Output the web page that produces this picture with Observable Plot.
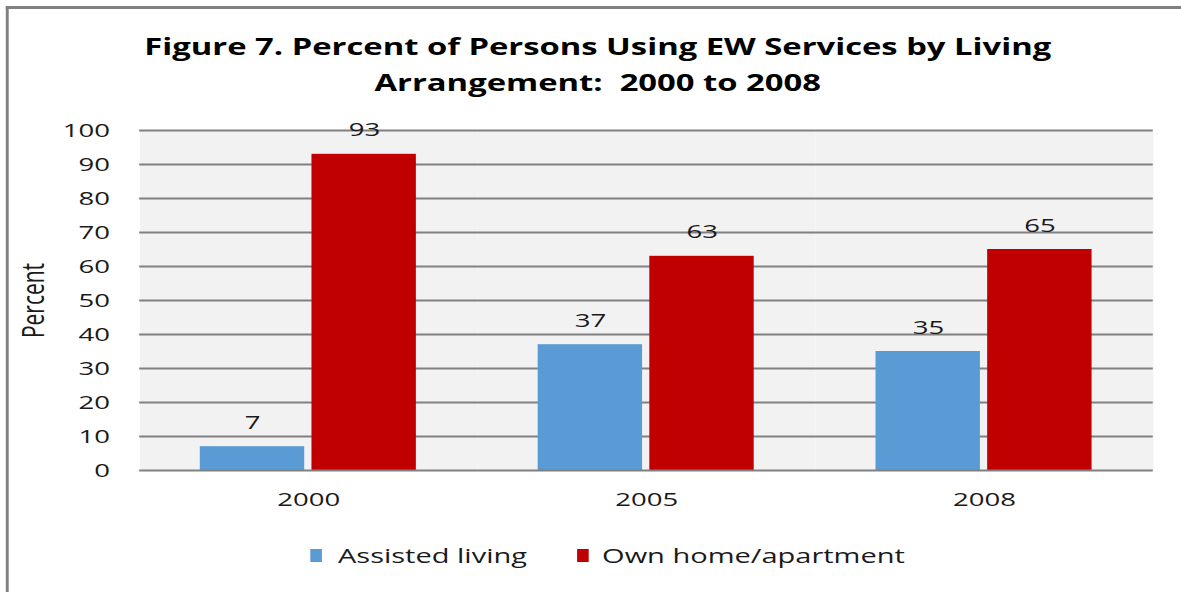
<!DOCTYPE html>
<html><head><meta charset="utf-8">
<script src="https://cdn.jsdelivr.net/npm/d3@7"></script>
<script src="https://cdn.jsdelivr.net/npm/@observablehq/plot@0.6"></script>
<style>
html,body{margin:0;padding:0;background:#fff;overflow:hidden;width:1181px;height:592px}
#stage{position:absolute;left:0;top:0;width:814.5px;height:592px;transform:scaleX(1.45);transform-origin:0 0;font-family:"Open Sans",sans-serif;color:#1a1a1a}
#border{position:absolute;left:4.1px;top:6px;width:820px;height:600px;border-left:2px solid #808080;border-top:3px solid #808080}
#title{position:absolute;left:5px;width:100%;top:29px;text-align:center;font-weight:bold;font-size:22.6px;line-height:36px;color:#000;white-space:pre}
#plot{position:absolute;left:0;top:100px}
#legend{position:absolute;top:541px;left:213.8px;height:28px;display:flex;align-items:center;font-size:20px;white-space:nowrap;color:#1a1a1a}
.sw{display:inline-block;width:8.3px;height:13px;margin-right:11px}
.item{display:flex;align-items:center}
.item + .item{margin-left:34.5px}
.item + .item .sw{margin-right:9px}
</style>
</head><body>
<div id="stage">
  <div id="border"></div>
  <div id="title"></div>
  <div id="plot"></div>
  <div id="legend"></div>
</div>
<script>
const titleLines = ["Figure 7. Percent of Persons Using EW Services by Living", "Arrangement:  2000 to 2008"];
const years = ["2000", "2005", "2008"];
const seriesNames = ["Assisted living", "Own home/apartment"];
const assistedLiving = [7, 37, 35];
const ownHome = [93, 63, 65];
const yTicks = [0, 10, 20, 30, 40, 50, 60, 70, 80, 90, 100];
const seriesColors = ["#5b9bd5", "#c00000"];
const yLabel = "Percent";

document.getElementById("title").textContent = titleLines.join("\n");

const data = years.flatMap((yr, i) => [
  {year: yr, series: seriesNames[0], value: assistedLiving[i]},
  {year: yr, series: seriesNames[1], value: ownHome[i]}
]);

const chart = Plot.plot({
  width: 814.5,
  height: 430,
  marginTop: 30,
  marginBottom: 60,
  marginLeft: 95.2,
  marginRight: 18.6,
  style: {fontFamily: "Open Sans, sans-serif", fontSize: "19px", color: "#1a1a1a", background: "transparent", overflow: "visible"},
  fx: {domain: years, padding: 0, label: null, axis: null},
  x: {domain: seriesNames, paddingInner: 0.0714, paddingOuter: 0.5476, axis: null},
  y: {domain: [0, 100], label: null},
  color: {domain: seriesNames, range: seriesColors},
  marks: [
    Plot.frame({fill: "#f2f2f2", stroke: null}),
    Plot.ruleY(yTicks.filter(t => t > 0), {stroke: "#808080", strokeWidth: 2}),
    Plot.barY(data, {fx: "year", x: "series", y: "value", fill: "series"}),
    Plot.ruleY([0], {stroke: "#808080", strokeWidth: 2}),
    Plot.text(data, {fx: "year", x: "series", y: "value", text: d => String(d.value), dy: -24, fontSize: 19, fill: "#1a1a1a"}),
    Plot.axisY({ticks: yTicks, tickSize: 0, tickPadding: 20.7, fontSize: 19, label: null}),
    Plot.axisY({ticks: [], tickSize: 0, fontSize: 21, label: yLabel, labelAnchor: "center", labelArrow: "none", labelOffset: 81}),
    Plot.axisFx({anchor: "bottom", tickSize: 0, tickPadding: 22, fontSize: 19, label: null})
  ]
});
document.getElementById("plot").appendChild(chart);

const legend = document.getElementById("legend");
seriesNames.forEach((name, i) => {
  const item = document.createElement("span");
  item.className = "item";
  const sw = document.createElement("span");
  sw.className = "sw";
  sw.style.background = seriesColors[i];
  const label = document.createElement("span");
  label.textContent = name;
  item.appendChild(sw);
  item.appendChild(label);
  legend.appendChild(item);
});
</script>
</body></html>
